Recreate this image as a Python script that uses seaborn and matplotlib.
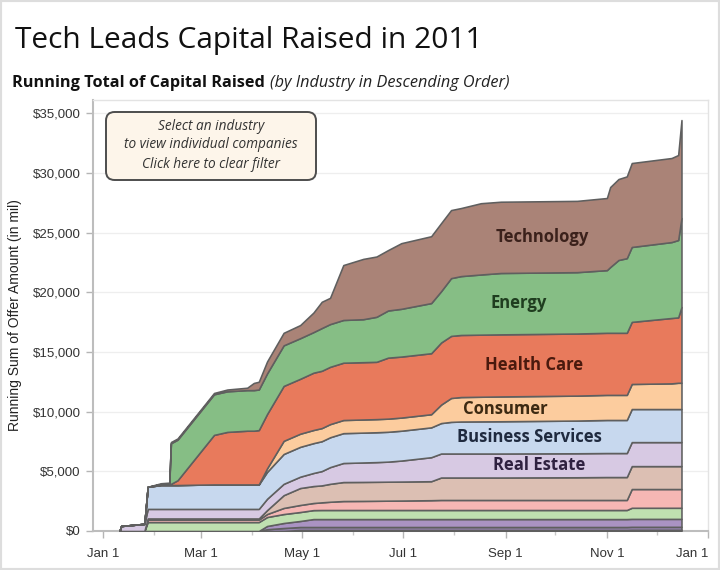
import numpy as np
import pandas as pd
import matplotlib
matplotlib.use("Agg")
import matplotlib.pyplot as plt
import matplotlib.dates as mdates
from matplotlib.ticker import MultipleLocator, FuncFormatter
from matplotlib.patches import FancyBboxPatch, Rectangle
import seaborn as sns

# breakpoints of the running totals (2011)
dates = ["2011-01-11", "2011-01-12", "2011-01-26", "2011-01-28", "2011-02-05", "2011-02-10",
         "2011-02-11", "2011-02-15", "2011-03-09", "2011-03-17", "2011-03-29", "2011-04-02",
         "2011-04-05", "2011-04-10", "2011-04-20", "2011-04-30", "2011-05-08", "2011-05-13",
         "2011-05-18", "2011-05-26", "2011-06-07", "2011-06-15", "2011-06-22", "2011-06-30",
         "2011-07-18", "2011-07-24", "2011-07-30", "2011-08-05", "2011-08-17", "2011-08-29",
         "2011-10-14", "2011-11-01", "2011-11-03", "2011-11-08", "2011-11-13", "2011-11-16",
         "2011-12-10", "2011-12-14", "2011-12-16"]

# running sum of offer amount ($ mil) per industry, bottom of the stack first
utilities = [0] * 15 + [85] * 20 + [100] * 4
materials = [0] * 13 + [150] + [250] * 25
media = [0] * 13 + [270, 420, 505] + [665] * 23
industrials = [0] * 3 + [750] * 14 + [760] * 18 + [930] * 4
financial = ([0] * 3 + [200] * 10 + [250, 510, 590, 595, 640, 690, 750, 760, 770, 780, 790, 820]
             + [840] * 10 + [1570] * 4)
telecom = ([0] * 3 + [100] * 10 + [330, 1070] + [1420] * 3 + [1500] + [1590] * 6
           + [1880] * 5 + [1900] + [1920] * 8)
real_estate = ([0, 420, 600] + [800] * 10 + [950] * 3
               + [1095, 1200, 1400, 1595, 1630, 1650, 1680, 1760] + [2010] * 15)
business_services = ([0] * 3 + [1850] + [2000] * 4 + [2050] * 5 + [2250] + [2500] * 11
                     + [2550, 2650, 2680, 2690, 2700, 2740] + [2770] * 8)
consumer = ([0] * 13 + [300] + [1100] * 11 + [1550, 2000, 2050, 2065, 2080, 2090]
            + [2100] * 5 + [2150, 2200, 2200])
health_care = ([0] * 4 + [80, 100, 100, 400, 4150, 4400, 4500, 4500, 4550, 4550, 4600, 4600]
               + [4800] * 6 + [5110] * 3 + [5200] * 11 + [5475, 5475, 6345])
energy = ([0] * 6 + [3400] * 11
          + [3580, 3580, 3580, 3600, 3770, 3950, 4000, 4200, 4300, 4840, 4930, 5040, 5140,
             5140, 5250, 5510, 6100, 6250, 6275, 6360, 6480, 7450])
technology = ([0] * 4
              + [70, 100, 100, 100, 110, 150, 200, 600, 650, 1000, 1050, 1100, 1640, 2200,
                 2200, 4600, 5050, 5050, 5060, 5500, 5600, 5700, 5700, 5700, 5970, 5970,
                 5970, 6040, 6700, 6780, 6850, 7030, 7040, 7120, 8210])

industries = ["Utilities", "Materials", "Media", "Industrials", "Financial", "Telecom",
              "Real Estate", "Business Services", "Consumer", "Health Care", "Energy",
              "Technology"]
series = [utilities, materials, media, industrials, financial, telecom, real_estate,
          business_services, consumer, health_care, energy, technology]
colors = ["#dc9c80", "#9583ae", "#aa93c3", "#bfe0b0", "#f6b7b4", "#dcbfb3", "#d7c9e3",
          "#c7d8ee", "#fccc9e", "#e87a5c", "#86be85", "#aa8377"]

# labelled industries: label date and text colour
label_names = ["Technology", "Energy", "Health Care", "Consumer", "Business Services", "Real Estate"]
label_dates = ["2011-09-23", "2011-09-09", "2011-09-18", "2011-09-01", "2011-09-15", "2011-09-21"]
label_colors = ["#3b211b", "#1f3d1f", "#4a1a0e", "#3d2a12", "#1f2a3f", "#2f2140"]

tick_dates = ["2011-01-01", "2011-03-01", "2011-05-01", "2011-07-01", "2011-09-01",
              "2011-11-01", "2012-01-01"]
tick_labels = ["Jan 1", "Mar 1", "May 1", "Jul 1", "Sep 1", "Nov 1", "Jan 1"]

sns.set_theme(style="white")
plt.rcParams["font.family"] = ["Liberation Sans", "DejaVu Sans"]
ui_font = ["Open Sans", "DejaVu Sans"]

W, H = 720, 570
fig = plt.figure(figsize=(W / 100, H / 100), dpi=100)
ax = fig.add_axes([93 / W, 1 - 531 / H, (708 - 93) / W, (531 - 100) / H])

x = pd.to_datetime(dates)
ax.stackplot(x, *series, colors=colors, edgecolor="#5f5f5f", linewidth=1.15, zorder=3)

ax.set_xlim(pd.Timestamp("2010-12-26"), pd.Timestamp("2012-01-01"))
ax.set_ylim(0, 36100)

ax.yaxis.set_major_locator(MultipleLocator(5000))
ax.yaxis.set_major_formatter(FuncFormatter(lambda v, p: f"${v:,.0f}"))
ax.set_xticks(pd.to_datetime(tick_dates))
ax.set_xticklabels(tick_labels)
ax.xaxis.set_minor_locator(mdates.MonthLocator())
ax.get_xticklabels()[-1].set_ha("right")

ax.grid(axis="y", color="#eeeeee", linewidth=0.9, zorder=0)
ax.tick_params(axis="both", which="major", length=5, width=1, color="#b5b5b5",
               labelsize=9.5, labelcolor="#333333", pad=4, bottom=True, left=True)
ax.tick_params(axis="x", which="minor", length=3, width=1, color="#c8c8c8", bottom=True)
ax.tick_params(axis="x", which="major", pad=7)
for side in ["left", "bottom"]:
    ax.spines[side].set_color("#bdbdbd")
    ax.spines[side].set_linewidth(1.5)
for side in ["top", "right"]:
    ax.spines[side].set_color("#e3e3e3")
    ax.spines[side].set_linewidth(1.0)

ax.set_ylabel("Running Sum of Offer Amount (in mil)", fontsize=10, color="#222222")
ax.yaxis.set_label_coords((22 - 93) / (708 - 93), 0.5)

# industry labels in the middle of their bands
days = (x - x[0]).days.values
tops = np.cumsum(np.array(series), axis=0)
for name, d, c in zip(label_names, label_dates, label_colors):
    i = industries.index(name)
    dd = (pd.Timestamp(d) - x[0]).days
    top = np.interp(dd, days, tops[i])
    bottom = np.interp(dd, days, tops[i - 1])
    ax.text(pd.Timestamp(d), (top + bottom) / 2, name, ha="center", va="center",
            fontsize=12, fontweight="bold", color=c, family=ui_font, zorder=5)

# titles
fig.text(15 / W, 1 - 48 / H, "Tech Leads Capital Raised in 2011", fontsize=21.5,
         family=ui_font, color="#111111", va="baseline")
sub = fig.text(12 / W, 1 - 87 / H, "Running Total of Capital Raised", fontsize=11.7,
               fontweight="bold", family=ui_font, color="#111111", va="baseline")
fig.canvas.draw()
bb = sub.get_window_extent()
fig.text((bb.x1 + 5) / W, 1 - 87 / H, "(by Industry in Descending Order)", fontsize=11.7,
         style="italic", family=ui_font, color="#222222", va="baseline")

# filter hint box
box = FancyBboxPatch((106 / W, 1 - 180 / H), 210 / W, 68 / H, transform=fig.transFigure,
                     boxstyle="round,pad=0,rounding_size=0.012", mutation_aspect=W / H,
                     facecolor="#fdf5ea", edgecolor="#4d4d4d", linewidth=1.4, zorder=6)
fig.add_artist(box)
for k, line in enumerate(["Select an industry", "to view individual companies",
                          "Click here to clear filter"]):
    fig.text(211 / W, 1 - (126 + 19 * k) / H, line, ha="center", va="center", fontsize=9.8,
             style="italic", family=ui_font, color="#333333", zorder=7)

fig.add_artist(Rectangle((0, 0), 1, 1, transform=fig.transFigure, fill=False,
                         edgecolor="#dddddd", linewidth=3))

fig.savefig("out.png", dpi=100)
